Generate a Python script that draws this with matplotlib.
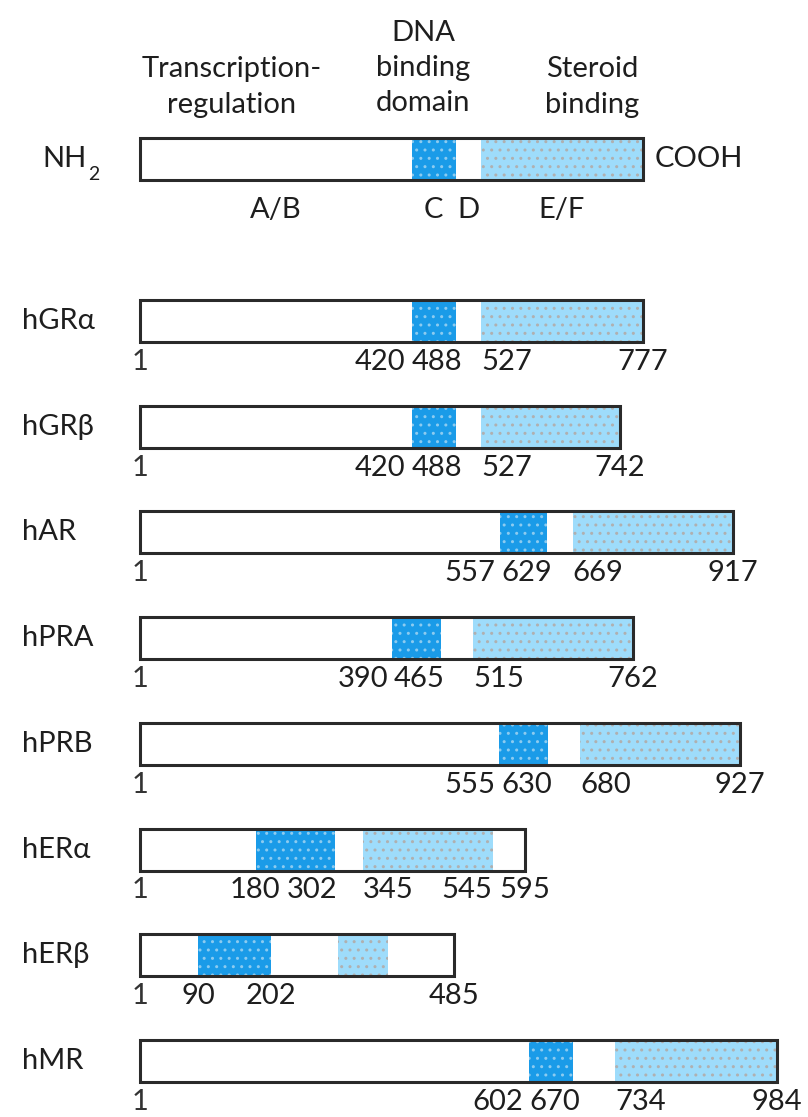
import matplotlib
matplotlib.use('Agg')
import matplotlib.pyplot as plt
from matplotlib.patches import Rectangle

plt.rcParams['font.family'] = ['Lato', 'DejaVu Sans']

# receptor names and domain boundaries (amino acid numbers)
names = ['hGR\u03b1', 'hGR\u03b2', 'hAR', 'hPRA', 'hPRB', 'hER\u03b1', 'hER\u03b2', 'hMR']
dbd_start = [420, 420, 557, 390, 555, 180, 90, 602]
dbd_end = [488, 488, 629, 465, 630, 302, 202, 670]
lbd_start = [527, 527, 669, 515, 680, 345, 306, 734]
lbd_end = [777, 742, 917, 762, 927, 545, 384, 984]
length = [777, 742, 917, 762, 927, 595, 485, 984]

# numbers printed under each bar
tick_labels = [
    [420, 488, 527, 777],
    [420, 488, 527, 742],
    [557, 629, 669, 917],
    [390, 465, 515, 762],
    [555, 630, 680, 927],
    [180, 302, 345, 545, 595],
    [90, 202, 485],
    [602, 670, 734, 984],
]
# horizontal alignment of those numbers
tick_ha = [
    ['right', 'right', 'left', 'center'],
    ['right', 'right', 'left', 'center'],
    ['right', 'right', 'left', 'center'],
    ['right', 'right', 'left', 'center'],
    ['right', 'right', 'left', 'center'],
    ['center', 'right', 'left', 'right', 'center'],
    ['center', 'center', 'center'],
    ['right', 'right', 'left', 'center'],
]

# schematic at the top
schema = [420, 488, 527, 777]
schema_regions = ['A/B', 'C', 'D', 'E/F']

dark_blue = '#1a9be8'
light_blue = '#9edcfb'
outline = '#2a2a2a'
txt = '#1e1e1e'

k = 0.647       # pixels per amino acid
x0 = 140        # pixel where residue 1 starts
bar_h = 42
fs = 21


def px(x):
    # convert a pixel column into amino-acid units
    return (x - x0) / k


fig = plt.figure(figsize=(8.08, 11.17), dpi=100)
ax = fig.add_axes([0, 0, 1, 1])
ax.set_xlim(px(0), px(808))
ax.set_ylim(1117, 0)
ax.axis('off')


def draw_bar(y, d0, d1, l0, l1, total):
    ax.add_patch(Rectangle((0, y - bar_h / 2), total, bar_h, facecolor='white', edgecolor='none'))
    ax.add_patch(Rectangle((d0, y - bar_h / 2), d1 - d0, bar_h, facecolor=dark_blue,
                           edgecolor='#8ccbf0', linewidth=0, hatch='..'))
    ax.add_patch(Rectangle((l0, y - bar_h / 2), l1 - l0, bar_h, facecolor=light_blue,
                           edgecolor='#b0b0b0', linewidth=0, hatch='..'))
    ax.add_patch(Rectangle((0, y - bar_h / 2), total, bar_h, fill=False,
                           edgecolor=outline, linewidth=2.2))


# top schematic
y_top = 159
draw_bar(y_top, schema[0], schema[1], schema[2], schema[3], schema[3])
ax.text(px(42), y_top, 'NH', fontsize=fs, ha='left', va='center', color=txt)
ax.text(px(88), y_top + 16, '2', fontsize=14, ha='left', va='center', color=txt)
ax.text(schema[3] + px(152), y_top, 'COOH', fontsize=fs, ha='left', va='center', color=txt)

bounds = [0] + schema
for i, reg in enumerate(schema_regions):
    ax.text((bounds[i] + bounds[i + 1]) / 2, 210, reg, fontsize=fs, ha='center', va='center',
            color=txt)

ax.text(px(232), 87, 'Transcription-\nregulation', fontsize=fs, ha='center', va='center',
        linespacing=1.45, color=txt)
ax.text(px(423), 68, 'DNA\nbinding\ndomain', fontsize=fs, ha='center', va='center',
        linespacing=1.45, color=txt)
ax.text(px(592), 87, 'Steroid\nbinding', fontsize=fs, ha='center', va='center',
        linespacing=1.45, color=txt)

# receptor rows
y_first = 321
row_gap = 105.7
row_texts = []
for i, name in enumerate(names):
    y = y_first + i * row_gap
    draw_bar(y, dbd_start[i], dbd_end[i], lbd_start[i], lbd_end[i], length[i])
    ax.text(px(22), y, name, fontsize=fs, ha='left', va='center', color=txt)
    ax.text(0, y + 41, '1', fontsize=fs, ha='center', va='center', color='#333333')
    labels = []
    for val, ha in zip(tick_labels[i], tick_ha[i]):
        labels.append(ax.text(val, y + 41, str(val), fontsize=fs, ha=ha, va='center', color=txt))
    row_texts.append(labels)

# push the numbers apart where they would collide
fig.canvas.draw()
renderer = fig.canvas.get_renderer()
gap = 6
for labels in row_texts:
    boxes = [t.get_window_extent(renderer) for t in labels]
    left = [b.x0 for b in boxes]
    width = [b.width for b in boxes]
    shift = [0.0] * len(labels)
    for _ in range(100):
        moved = False
        for j in range(1, len(labels)):
            a = left[j - 1] + shift[j - 1] + width[j - 1] + gap
            b = left[j] + shift[j]
            if a > b + 0.1:
                d = (a - b) / 2
                shift[j - 1] -= d
                shift[j] += d
                moved = True
        if not moved:
            break
    for t, s in zip(labels, shift):
        xx, yy = t.get_position()
        t.set_position((xx + s / k, yy))

fig.savefig('out.png', dpi=100)
